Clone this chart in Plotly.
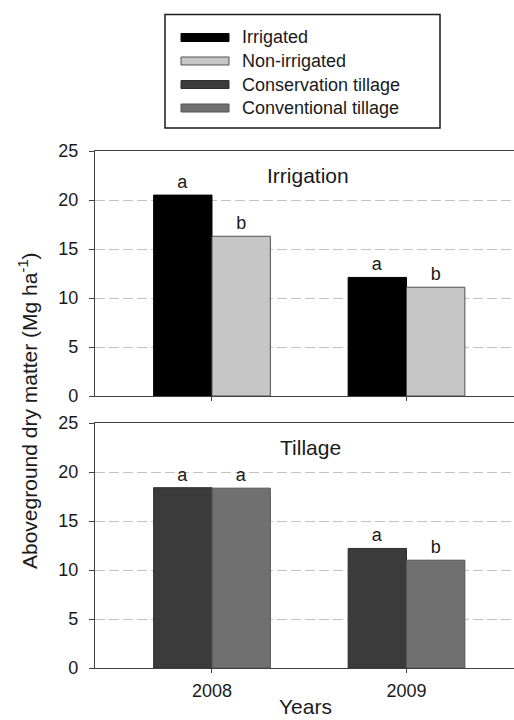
import plotly.graph_objects as go

# Aboveground dry matter (Mg ha-1) by year
years = ["2008", "2009"]

irrigation_names = ["Irrigated", "Non-irrigated"]
irrigated = [20.5, 12.1]
non_irrigated = [16.3, 11.1]
irrigation_letters = [["a", "a"], ["b", "b"]]

tillage_names = ["Conservation tillage", "Conventional tillage"]
conservation = [18.4, 12.2]
conventional = [18.35, 11.0]
tillage_letters = [["a", "a"], ["a", "b"]]

colors = ["#000000", "#c6c6c6", "#3b3b3b", "#707070"]
outlines = ["#000000", "#505050", "#2e2e2e", "#555555"]

FONT = "Arial, Liberation Sans, sans-serif"
TXT = "#1a1a1a"
W, H = 514, 720
L, R, T, B = 95, 0, 151, 52
PW, PH = W - L - R, H - T - B


def px_x(px):
    return (px - L) / PW


def px_y(py):
    return (H - B - py) / PH


fig = go.Figure()

series = [
    (irrigation_names[0], irrigated, irrigation_letters[0], "x", "y"),
    (irrigation_names[1], non_irrigated, irrigation_letters[1], "x", "y"),
    (tillage_names[0], conservation, tillage_letters[0], "x2", "y2"),
    (tillage_names[1], conventional, tillage_letters[1], "x2", "y2"),
]
for i, (name, vals, letters, xa, ya) in enumerate(series):
    fig.add_trace(go.Bar(
        x=years, y=vals, name=name, text=letters,
        textposition="outside", constraintext="none", cliponaxis=False,
        textfont=dict(family=FONT, size=18, color=TXT),
        marker=dict(color=colors[i], line=dict(color=outlines[i], width=1)),
        xaxis=xa, yaxis=ya, showlegend=False,
    ))

xrange = [-0.6015, 1.5527]
axis_common = dict(
    showline=True, linecolor="#404040", linewidth=1.2,
    ticks="outside", tickcolor="#404040", tickwidth=1,
)
xcommon = dict(axis_common, type="category", range=xrange, mirror=True,
               ticklen=4, showgrid=False,
               tickfont=dict(family=FONT, size=18, color=TXT))
ycommon = dict(axis_common, range=[0, 25], dtick=5, ticklen=5,
               showgrid=True, gridcolor="#c2c2c2", gridwidth=1,
               griddash="10px,4px", zeroline=False, ticklabelstandoff=7,
               tickfont=dict(family=FONT, size=18, color=TXT))

top_bottom = px_y(396)
bot_top = px_y(423)

fig.update_layout(
    width=W, height=H,
    margin=dict(l=L, r=R, t=T, b=B),
    paper_bgcolor="white", plot_bgcolor="white",
    barmode="group", bargap=0.4, bargroupgap=0,
    xaxis=dict(xcommon, anchor="y", showticklabels=False),
    yaxis=dict(ycommon, domain=[top_bottom, 1], anchor="x"),
    xaxis2=dict(xcommon, anchor="y2", ticklabelstandoff=2),
    yaxis2=dict(ycommon, domain=[0, bot_top], anchor="x2"),
    font=dict(family=FONT, color=TXT),
)

# panel titles
fig.add_annotation(text="Irrigation", xref="x domain", yref="y",
                   x=px_x(308), y=22.55, xanchor="center", yanchor="middle",
                   showarrow=False,
                   font=dict(family=FONT, size=21, color=TXT))
fig.add_annotation(text="Tillage", xref="x2 domain", yref="y2",
                   x=px_x(310), y=22.55, xanchor="center", yanchor="middle",
                   showarrow=False,
                   font=dict(family=FONT, size=21, color=TXT))

# shared axis titles
fig.add_annotation(text="Aboveground dry matter (Mg ha<sup>-1</sup>)",
                   xref="paper", yref="paper", x=px_x(28), y=px_y(411),
                   xanchor="center", yanchor="middle",
                   textangle=-90, showarrow=False,
                   font=dict(family=FONT, size=21, color=TXT))
fig.add_annotation(text="Years", xref="paper", yref="paper",
                   x=px_x(305), y=px_y(720), xanchor="center", yanchor="bottom",
                   showarrow=False,
                   font=dict(family=FONT, size=21, color=TXT))

# legend box with bar-style keys
fig.add_shape(type="rect", xref="paper", yref="paper",
              x0=px_x(165), x1=px_x(440), y0=px_y(128), y1=px_y(14.5),
              line=dict(color="#1a1a1a", width=1.5), fillcolor="white")
legend_names = irrigation_names + tillage_names
row_y = [37.5, 61, 84.5, 108]
for i, name in enumerate(legend_names):
    cy = row_y[i]
    fig.add_shape(type="rect", xref="paper", yref="paper",
                  x0=px_x(181), x1=px_x(229), y0=px_y(cy + 4), y1=px_y(cy - 4),
                  line=dict(color=outlines[i], width=1), fillcolor=colors[i])
    fig.add_annotation(text=name, xref="paper", yref="paper",
                       x=px_x(240), y=px_y(cy), xanchor="left", yanchor="middle",
                       showarrow=False,
                       font=dict(family=FONT, size=18, color=TXT))

fig.write_html("out.html")
